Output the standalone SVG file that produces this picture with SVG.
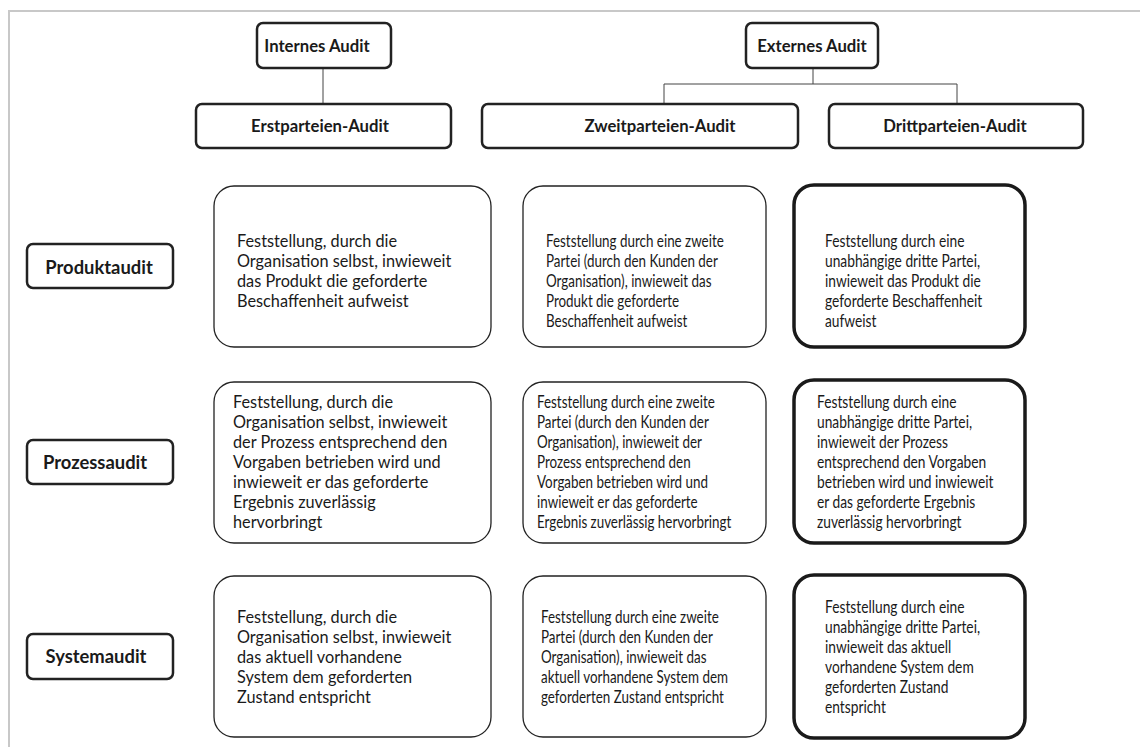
<svg xmlns="http://www.w3.org/2000/svg" width="1140" height="747" viewBox="0 0 1140 747">
<style>
.frame{fill:none;stroke:#c8c8c8;stroke-width:2}
.hdr{fill:#fff;stroke:#222;stroke-width:2.5}
.cell{fill:#fff;stroke:#222;stroke-width:1.3}
.cell3{fill:#fff;stroke:#1a1a1a;stroke-width:3.5}
.conn{fill:none;stroke:#444;stroke-width:1}
.b{font-family:Lato,"Liberation Sans",sans-serif;font-weight:bold;font-size:16.7px;fill:#1a1a1a;text-anchor:middle}
.r{font-family:Lato,"Liberation Sans",sans-serif;font-weight:bold;font-size:18.4px;fill:#1a1a1a;text-anchor:middle}
.t{font-family:Lato,"Liberation Sans",sans-serif;font-size:16.3px;fill:#1a1a1a}
</style>
<rect width="1140" height="747" fill="#fff"/>
<path class="frame" d="M9,747 V11 H1140"/>
<g id="connectors">
<path class="conn" d="M323,68 V104"/>
<path class="conn" d="M813,68 V84 M664,84 H957 M664,84 V104 M957,84 V104"/>
</g>
<g id="internes"><rect class="hdr" x="257" y="23" width="134" height="45" rx="6"/><text class="b" x="317" y="52">Internes Audit</text></g>
<g id="externes"><rect class="hdr" x="746" y="23" width="132" height="45" rx="6"/><text class="b" x="812" y="52">Externes Audit</text></g>
<g id="erst"><rect class="hdr" x="196" y="104" width="255" height="44" rx="6"/><text class="b" x="320" y="132">Erstparteien-Audit</text></g>
<g id="zweit"><rect class="hdr" x="482" y="104" width="316" height="44" rx="6"/><text class="b" x="660" y="132">Zweitparteien-Audit</text></g>
<g id="dritt"><rect class="hdr" x="829" y="104" width="254" height="44" rx="6"/><text class="b" x="955" y="132">Drittparteien-Audit</text></g>
<g id="produkt"><rect class="hdr" x="27" y="244" width="146" height="44" rx="6"/><text class="r" x="99" y="274">Produktaudit</text></g>
<g id="prozess"><rect class="hdr" x="27" y="440" width="146" height="44" rx="6"/><text class="r" x="95" y="469">Prozessaudit</text></g>
<g id="system"><rect class="hdr" x="27" y="634" width="146" height="45" rx="6"/><text class="r" x="96" y="663">Systemaudit</text></g>

<g id="c11"><rect class="cell" x="214" y="186" width="277" height="161" rx="20"/>
<text class="t"><tspan x="237" y="247">Feststellung, durch die</tspan><tspan x="237" y="267">Organisation selbst, inwieweit</tspan><tspan x="237" y="287">das Produkt die geforderte</tspan><tspan x="237" y="307">Beschaffenheit aufweist</tspan></text></g>
<g id="c12"><rect class="cell" x="523" y="186" width="243" height="161" rx="20"/>
<text class="t" transform="translate(546,0) scale(0.823,1)"><tspan x="0" y="247">Feststellung durch eine zweite</tspan><tspan x="0" y="267">Partei (durch den Kunden der</tspan><tspan x="0" y="287">Organisation), inwieweit das</tspan><tspan x="0" y="307">Produkt die geforderte</tspan><tspan x="0" y="327">Beschaffenheit aufweist</tspan></text></g>
<g id="c13"><rect class="cell3" x="794" y="185" width="231" height="162" rx="20"/>
<text class="t" transform="translate(825,0) scale(0.845,1)"><tspan x="0" y="247">Feststellung durch eine</tspan><tspan x="0" y="267">unabhängige dritte Partei,</tspan><tspan x="0" y="287">inwieweit das Produkt die</tspan><tspan x="0" y="307">geforderte Beschaffenheit</tspan><tspan x="0" y="327">aufweist</tspan></text></g>

<g id="c21"><rect class="cell" x="214" y="382" width="277" height="161" rx="20"/>
<text class="t"><tspan x="233" y="408">Feststellung, durch die</tspan><tspan x="233" y="428">Organisation selbst, inwieweit</tspan><tspan x="233" y="448">der Prozess entsprechend den</tspan><tspan x="233" y="468">Vorgaben betrieben wird und</tspan><tspan x="233" y="488">inwieweit er das geforderte</tspan><tspan x="233" y="508">Ergebnis zuverlässig</tspan><tspan x="233" y="528">hervorbringt</tspan></text></g>
<g id="c22"><rect class="cell" x="523" y="382" width="243" height="161" rx="20"/>
<text class="t" transform="translate(537,0) scale(0.823,1)"><tspan x="0" y="408">Feststellung durch eine zweite</tspan><tspan x="0" y="428">Partei (durch den Kunden der</tspan><tspan x="0" y="448">Organisation), inwieweit der</tspan><tspan x="0" y="468">Prozess entsprechend den</tspan><tspan x="0" y="488">Vorgaben betrieben wird und</tspan><tspan x="0" y="508">inwieweit er das geforderte</tspan><tspan x="0" y="528">Ergebnis zuverlässig hervorbringt</tspan></text></g>
<g id="c23"><rect class="cell3" x="794" y="380" width="231" height="163" rx="20"/>
<text class="t" transform="translate(817,0) scale(0.845,1)"><tspan x="0" y="408">Feststellung durch eine</tspan><tspan x="0" y="428">unabhängige dritte Partei,</tspan><tspan x="0" y="448">inwieweit der Prozess</tspan><tspan x="0" y="468">entsprechend den Vorgaben</tspan><tspan x="0" y="488">betrieben wird und inwieweit</tspan><tspan x="0" y="508">er das geforderte Ergebnis</tspan><tspan x="0" y="528">zuverlässig hervorbringt</tspan></text></g>

<g id="c31"><rect class="cell" x="214" y="576" width="277" height="161" rx="20"/>
<text class="t"><tspan x="237" y="623">Feststellung, durch die</tspan><tspan x="237" y="643">Organisation selbst, inwieweit</tspan><tspan x="237" y="663">das aktuell vorhandene</tspan><tspan x="237" y="683">System dem geforderten</tspan><tspan x="237" y="703">Zustand entspricht</tspan></text></g>
<g id="c32"><rect class="cell" x="523" y="576" width="243" height="161" rx="20"/>
<text class="t" transform="translate(541,0) scale(0.823,1)"><tspan x="0" y="623">Feststellung durch eine zweite</tspan><tspan x="0" y="643">Partei (durch den Kunden der</tspan><tspan x="0" y="663">Organisation), inwieweit das</tspan><tspan x="0" y="683">aktuell vorhandene System dem</tspan><tspan x="0" y="703">geforderten Zustand entspricht</tspan></text></g>
<g id="c33"><rect class="cell3" x="794" y="575" width="231" height="163" rx="20"/>
<text class="t" transform="translate(825,0) scale(0.845,1)"><tspan x="0" y="613">Feststellung durch eine</tspan><tspan x="0" y="633">unabhängige dritte Partei,</tspan><tspan x="0" y="653">inwieweit das aktuell</tspan><tspan x="0" y="673">vorhandene System dem</tspan><tspan x="0" y="693">geforderten Zustand</tspan><tspan x="0" y="713">entspricht</tspan></text></g>
</svg>
